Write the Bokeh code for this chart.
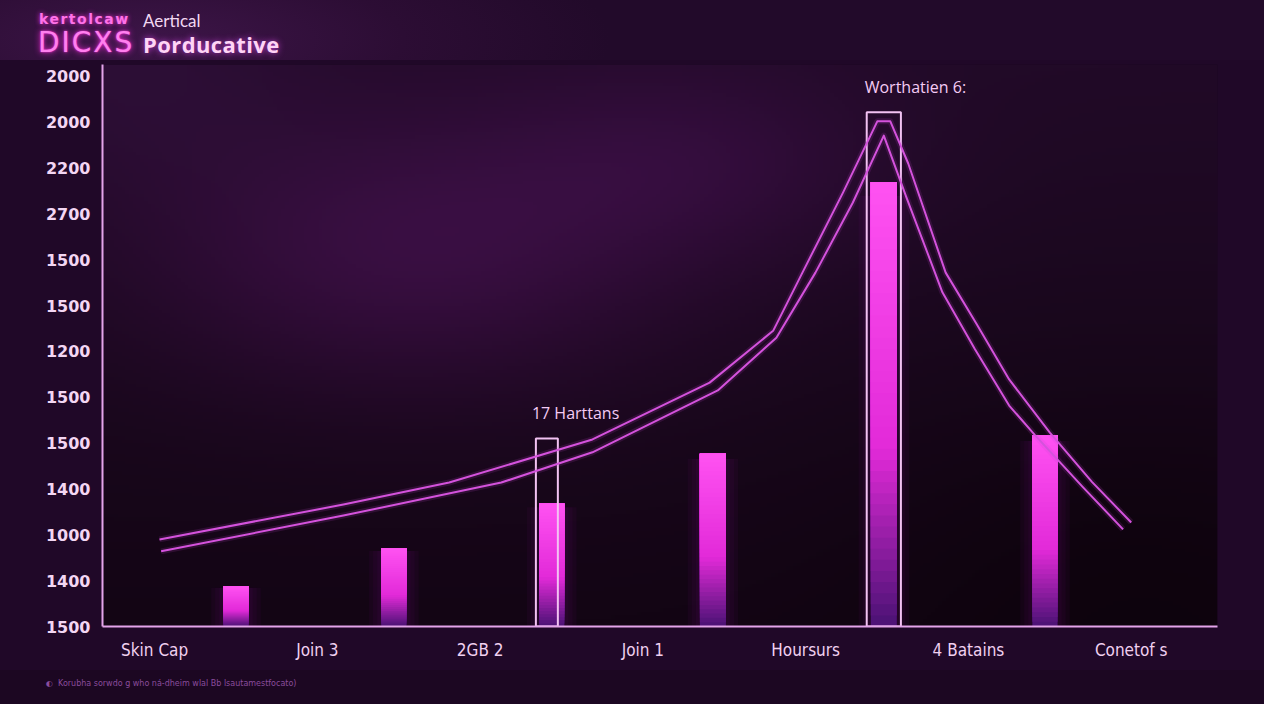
import numpy as np
from bokeh.plotting import figure
from bokeh.layouts import column
from bokeh.models import FixedTicker, Range1d, ColumnDataSource, Div
from bokeh.embed import file_html
from bokeh.resources import INLINE
from bokeh.core.properties import value

# ---------------- data ----------------
categories = ["Skin Cap", "Join 3", "2GB 2", "Join 1", "Hoursurs", "4 Batains", "Conetof s"]
# y tick labels, bottom to top (as printed on the reference)
y_tick_labels = ["1500", "1400", "1000", "1400", "1500", "1500", "1200",
                 "1500", "1500", "2700", "2200", "2000", "2000"]

bar_x = [0.50, 1.47, 2.44, 3.43, 4.48, 5.47]
bar_values = [0.87, 1.70, 2.68, 3.77, 9.69, 4.17]

highlight_x = [2.41, 4.48]
highlight_values = [4.10, 11.22]
highlight_labels = ["17 Harttans", "Worthatien 6:"]

outer_x = [0.03, 1.16, 1.81, 2.69, 3.41, 3.80, 3.98, 4.23, 4.44, 4.52, 4.63, 4.86, 5.05, 5.25, 5.50, 5.76, 6.00]
outer_y = [1.90, 2.66, 3.14, 4.08, 5.32, 6.45, 7.72, 9.47, 11.02, 11.02, 10.10, 7.72, 6.60, 5.39, 4.23, 3.15, 2.27]
inner_x = [0.04, 1.16, 2.13, 2.69, 3.46, 3.82, 4.06, 4.29, 4.48, 4.62, 4.84, 5.04, 5.25, 5.41, 5.70, 5.95]
inner_y = [1.64, 2.42, 3.14, 3.80, 5.15, 6.30, 7.72, 9.25, 10.71, 9.35, 7.29, 6.05, 4.82, 4.17, 3.05, 2.12]

title_small = "kertolcaw"
title_logo = "DICXS"
title_line1 = "Aertical"
title_line2 = "Porducative"
footer_text = "Korubha sorwdo g who n\u00e1-dheim wlal Bb lsautamestfocato)"

# ---------------- layout constants ----------------
X0, X1 = -0.32, 6.53
Y0, Y1 = 0.0, 12.26
W = 1264
HEAD_H, FIG_H, FOOT_H = 60, 610, 34
ML, MR, MT, MB = 102, 47, 4, 44
BG = "#1f0826"

header = Div(width=W, height=HEAD_H, margin=0, styles={"background-color": BG}, text=f"""
<div style="position:relative;width:{W}px;height:{HEAD_H}px;overflow:hidden;
 background:radial-gradient(ellipse 460px 130px at 150px 40px,#3d1548 0%,#2c0d34 55%,#220a2a 100%);">
 <span style="position:absolute;left:39px;top:12px;font:bold 14px 'DejaVu Sans';line-height:14px;letter-spacing:1.5px;
  color:#ff72e8;text-shadow:0 0 5px #ff30e0;white-space:nowrap">{title_small}</span>
 <span style="position:absolute;left:38px;top:29px;font:28px 'DejaVu Sans';line-height:28px;
  color:#ff80ee;text-shadow:0 0 6px #ff30e0,0 0 2px #ff30e0;white-space:nowrap;letter-spacing:2px">{title_logo}</span>
 <span style="position:absolute;left:143px;top:13px;font:17px 'Lato';line-height:16px;
  color:#f2d8f2;white-space:nowrap">{title_line1}</span>
 <span style="position:absolute;left:143px;top:34px;font:bold 22px 'Open Sans';line-height:21px;letter-spacing:0.4px;
  color:#ffd4f6;text-shadow:0 0 6px #c040d0;white-space:nowrap">{title_line2}</span>
</div>""")

footer = Div(width=W, height=FOOT_H, margin=0, styles={"background-color": BG}, text=f"""
<div style="position:relative;width:{W}px;height:{FOOT_H}px;background:#1c0722;">
 <span style="position:absolute;left:46px;top:8px;font:8px 'DejaVu Sans';line-height:11px;
  color:#8a4c9c;white-space:nowrap">&#9680;&nbsp;&nbsp;{footer_text}</span>
</div>""")

p = figure(width=W, height=FIG_H, x_range=Range1d(X0, X1), y_range=Range1d(Y0, Y1),
           output_backend="svg", toolbar_location=None, margin=0,
           styles={"background-color": "#200828"},
           min_border_left=ML, min_border_right=MR, min_border_top=MT, min_border_bottom=MB)
p.xgrid.grid_line_color = None
p.ygrid.grid_line_color = None
p.outline_line_color = None
p.border_fill_color = "#200828"
p.background_fill_color = "#1a0620"

# background glow image (decoration) in page px: frame spans x 110..1225, y 72..634
fw, fh = W - ML - MR, FIG_H - MT - MB
IH, IW = 160, 300
img = np.empty((IH, IW), dtype=np.uint32)
view = img.view(dtype=np.uint8).reshape((IH, IW, 4))
cols = (np.arange(IW) + 0.5) / IW * fw + 110
rows = 634 - (np.arange(IH) + 0.5) / IH * fh
PX, PY = np.meshgrid(cols, rows)
t = (PY - 72) / (634 - 72)
base = np.stack([33 - 14 * t, 10 - 5 * t, 39 - 19 * t], axis=-1)

def blob(cx, cy, sx, sy, add):
    g = np.exp(-(((PX - cx) / sx) ** 2 + ((PY - cy) / sy) ** 2))
    return g[..., None] * np.array(add)

rgb = base + blob(420, 260, 270, 140, (28, 6, 32)) + blob(700, 170, 200, 100, (16, 3, 19)) \
    + blob(130, 80, 180, 120, (10, 4, 13)) - blob(1150, 560, 300, 200, (6, 2, 8))
rgb = np.clip(rgb, 0, 255)
view[..., 0] = rgb[..., 0]
view[..., 1] = rgb[..., 1]
view[..., 2] = rgb[..., 2]
view[..., 3] = 255
p.image_rgba(image=[img], x=X0, y=Y0, dw=X1 - X0, dh=Y1 - Y0, level="image")

# ---------------- bars with gradient ----------------
bar_w = [0.155, 0.155, 0.155, 0.16, 0.16, 0.155]

def hex2rgb(h):
    return np.array([int(h[i:i + 2], 16) for i in (1, 3, 5)], dtype=float)

c_top, c_mid, c_bot = hex2rgb("#ff52f2"), hex2rgb("#e22ad8"), hex2rgb("#4a1274")

def grad(f):
    if f >= 0.4:
        c = c_mid + (c_top - c_mid) * (f - 0.4) / 0.6
    else:
        c = c_bot + (c_mid - c_bot) * f / 0.4
    return "#%02x%02x%02x" % tuple(int(round(v)) for v in c)

# soft glow around bars
for extra in (0.075, 0.05, 0.025):
    p.quad(left=[x - w / 2 - extra for x, w in zip(bar_x, bar_w)],
           right=[x + w / 2 + extra for x, w in zip(bar_x, bar_w)],
           bottom=[0] * len(bar_x), top=[v * 0.97 for v in bar_values],
           fill_color="#b820c8", fill_alpha=0.045, line_color=None)

seg = dict(left=[], right=[], bottom=[], top=[], color=[])
N = 40
for x, v, w in zip(bar_x, bar_values, bar_w):
    for k in range(N):
        seg["left"].append(x - w / 2)
        seg["right"].append(x + w / 2)
        seg["bottom"].append(v * k / N)
        seg["top"].append(v)
        seg["color"].append(grad((k + 0.5) / N))
p.quad(left="left", right="right", bottom="bottom", top="top", fill_color="color",
       line_color=None, source=ColumnDataSource(seg))

# ---------------- highlight boxes ----------------
hl_w = [0.135, 0.21]
p.quad(left=[x - w / 2 for x, w in zip(highlight_x, hl_w)],
       right=[x + w / 2 for x, w in zip(highlight_x, hl_w)],
       bottom=[0, 0], top=highlight_values,
       fill_color=None, line_color="#f2c2f2", line_width=2)

# ---------------- lines ----------------
for xs, ys in [(outer_x, outer_y), (inner_x, inner_y)]:
    p.line(xs, ys, color="#c040d0", line_width=6, line_alpha=0.15, line_join="round")
    p.line(xs, ys, color="#d452dc", line_width=2, line_join="round")

# ---------------- annotations ----------------
p.text(x=[x - w / 2 for x, w in zip(highlight_x, hl_w)],
       y=[v + 0.55 for v in highlight_values], text=highlight_labels,
       x_offset=[-4, -2], text_font=value("Open Sans"), text_font_size="16px",
       text_color="#f4cbf4", text_align="left", text_baseline="middle")

# ---------------- axes ----------------
p.yaxis.ticker = FixedTicker(ticks=list(range(len(y_tick_labels))))
p.yaxis.major_label_overrides = {i: s for i, s in enumerate(y_tick_labels)}
p.xaxis.ticker = FixedTicker(ticks=list(range(len(categories))))
p.xaxis.major_label_overrides = {i: s for i, s in enumerate(categories)}
for ax in (p.xaxis, p.yaxis):
    ax.axis_line_color = "#e4a4ea"
    ax.axis_line_width = 2
    ax.major_tick_line_color = None
    ax.minor_tick_line_color = None
p.yaxis.major_label_standoff = 6
p.yaxis.major_label_text_font = "DejaVu Sans"
p.yaxis.major_label_text_font_style = "bold"
p.yaxis.major_label_text_font_size = "16px"
p.yaxis.major_label_text_color = "#f3d6f3"
p.xaxis.major_label_text_font = "'Liberation Sans Narrow', 'DejaVu Sans Condensed', sans-serif"
p.xaxis.major_label_text_font_size = "17px"
p.xaxis.major_label_text_color = "#f0d0f0"
p.xaxis.major_label_standoff = 7

layout = column(header, p, footer, spacing=0, margin=0, styles={"background-color": BG})
html = file_html(layout, INLINE)
html = html.replace("<body>", f'<body style="background:{BG};">', 1)
open("out.html", "w").write(html)
